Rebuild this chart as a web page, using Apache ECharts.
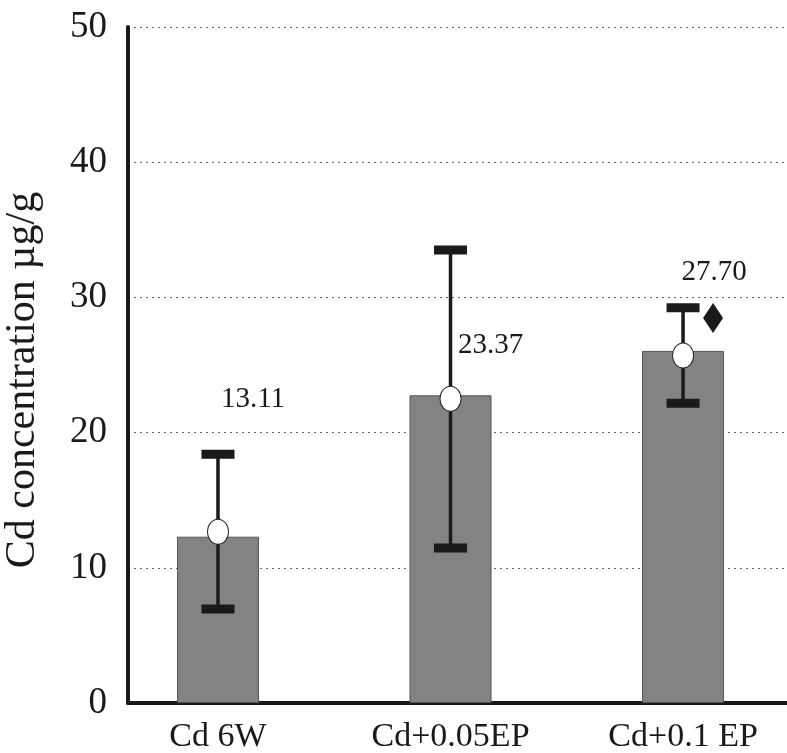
<!DOCTYPE html>
<html>
<head>
<meta charset="utf-8">
<script src="https://cdn.jsdelivr.net/npm/echarts@6/dist/echarts.min.js"></script>
<style>
  html, body { margin: 0; padding: 0; background: #fff; }
  #main { width: 787px; height: 753px; }
</style>
</head>
<body>
<div id="main"></div>
<script>
// categories and values
var categories = ["Cd 6W", "Cd+0.05EP", "Cd+0.1 EP"];
var barValues = [12.3, 22.76, 26.04];
var pointValues = [12.67, 22.5, 25.7];
var errLow = [6.95, 11.46, 22.17];
var errHigh = [18.4, 33.5, 29.24];
var meanLabels = ["13.11", "23.37", "27.70"];
var yTicks = [0, 10, 20, 30, 40, 50];
var markValue = 28.47; // diamond next to third bar

var labelOffsets = [[35, -132], [40, -53], [31, -83]];

var myChart = echarts.init(document.getElementById("main"));

var font = "Liberation Serif";
var ink = "#1a1a1a";

var barData = categories.map(function (c, i) { return [i, barValues[i]]; });
var errData = categories.map(function (c, i) { return [i, errLow[i], errHigh[i]]; });
var pointData = categories.map(function (c, i) {
  return {
    value: [i, pointValues[i]],
    label: { offset: labelOffsets[i], formatter: meanLabels[i] }
  };
});

var option = {
  animation: false,
  grid: { left: 128, right: 0, top: 27, bottom: 50, outerBoundsMode: "none" },
  xAxis: {
    type: "value",
    min: -0.387,
    max: 2.447,
    axisLine: { show: true, onZero: false, lineStyle: { color: ink, width: 4 } },
    axisTick: { show: false },
    splitLine: { show: false },
    axisLabel: {
      customValues: [0, 1, 2],
      formatter: function (v) { return categories[Math.round(v)]; },
      fontFamily: font,
      fontSize: 34,
      color: ink,
      margin: 17
    }
  },
  yAxis: {
    type: "value",
    min: yTicks[0],
    max: yTicks[yTicks.length - 1],
    interval: 10,
    name: "Cd concentration µg/g",
    nameLocation: "middle",
    nameGap: 84,
    nameTextStyle: { fontFamily: font, fontSize: 42, color: ink, padding: [0, 30, 0, 0] },
    axisLine: { show: true, onZero: false, lineStyle: { color: ink, width: 4 } },
    axisTick: { show: false },
    axisLabel: { fontFamily: font, fontSize: 37, color: ink, margin: 21 },
    splitLine: { show: true, lineStyle: { color: "#666", width: 1, type: [2, 4] } }
  },
  series: [
    {
      type: "bar",
      data: barData,
      barWidth: 82,
      itemStyle: { color: "#838383", borderColor: "#555", borderWidth: 1 },
      z: 2
    },
    {
      type: "custom",
      data: errData,
      z: 3,
      renderItem: function (params, api) {
        var x = api.value(0);
        var lo = api.coord([x, api.value(1)]);
        var hi = api.coord([x, api.value(2)]);
        var capW = 33, capH = 9;
        var style = { fill: ink };
        return {
          type: "group",
          children: [
            { type: "rect", shape: { x: lo[0] - 1.75, y: hi[1], width: 3.5, height: lo[1] - hi[1] }, style: style },
            { type: "rect", shape: { x: hi[0] - capW / 2, y: hi[1] - capH / 2, width: capW, height: capH }, style: style },
            { type: "rect", shape: { x: lo[0] - capW / 2, y: lo[1] - capH / 2, width: capW, height: capH }, style: style }
          ]
        };
      }
    },
    {
      type: "scatter",
      data: pointData,
      symbol: "circle",
      symbolSize: [21, 25],
      itemStyle: { color: "#fff", borderColor: "#222", borderWidth: 1, opacity: 1 },
      label: {
        show: true,
        position: "inside",
        fontFamily: font,
        fontSize: 29,
        color: ink
      },
      z: 4
    },
    {
      type: "scatter",
      data: [[2, markValue]],
      symbol: "diamond",
      symbolSize: [20, 30],
      symbolOffset: [30, 0],
      itemStyle: { color: ink, opacity: 1 },
      z: 4
    }
  ]
};

myChart.setOption(option);
</script>
</body>
</html>
